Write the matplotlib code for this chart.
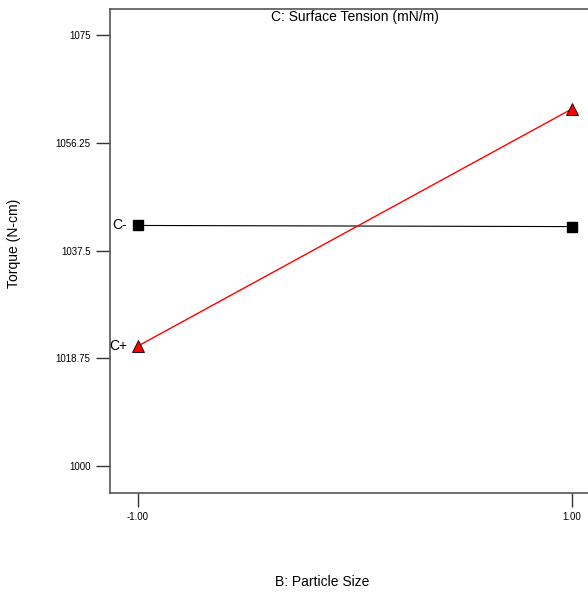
import matplotlib
matplotlib.use('Agg')
import matplotlib.pyplot as plt

plt.rcParams['font.family'] = ['Liberation Sans', 'DejaVu Sans']

particle_size = [-1.0, 1.0]
c_minus = [1041.9, 1041.7]
c_plus = [1020.9, 1062.2]
yticks = [1000, 1018.75, 1037.5, 1056.25, 1075]
ytick_labels = ['1000', '1018.75', '1037.5', '1056.25', '1075']
xticks = [-1.0, 1.0]
xtick_labels = ['-1.00', '1.00']

fig = plt.figure(figsize=(5.88, 5.92), dpi=100)
ax = fig.add_axes([110 / 588, 1 - 493 / 592, 1 - 110 / 588, (493 - 9) / 592])

ax.plot(particle_size, c_minus, color='black', lw=0.8, marker='s', ms=7,
        mfc='black', mec='black')
ax.plot(particle_size, c_plus, color='red', lw=1.0, marker='^', ms=9,
        mfc='red', mec='black', mew=0.6)

ax.text(-1.05, c_minus[0], 'C-', ha='right', va='center', fontsize=10)
ax.text(-1.05, c_plus[0], 'C+', ha='right', va='center', fontsize=10)

ax.set_xlim(-1.129, 1.074)
ax.set_ylim(995.3, 1079.6)
ax.set_xticks(xticks)
ax.set_xticklabels(xtick_labels)
ax.set_yticks(yticks)
ax.set_yticklabels(ytick_labels)
ax.tick_params(axis='both', length=10, width=1, labelsize=7, pad=4, color='#333333')

for side in ['left', 'bottom', 'top']:
    ax.spines[side].set_color('#555555')
    ax.spines[side].set_linewidth(1.2)
ax.spines['right'].set_visible(False)

fig.text(355 / 588, 1 - 17 / 592, 'C: Surface Tension (mN/m)', ha='center', va='center', fontsize=10)
fig.text(322 / 588, 1 - 582 / 592, 'B: Particle Size', ha='center', va='center', fontsize=10)
fig.text(14 / 588, 1 - 243 / 592, 'Torque (N-cm)', ha='center', va='center', rotation=90, fontsize=10)

fig.savefig('out.png', dpi=100)
